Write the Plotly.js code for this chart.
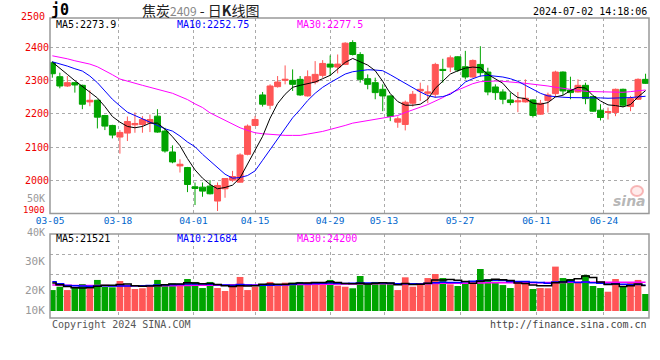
<!DOCTYPE html>
<html><head><meta charset="utf-8">
<script src="https://cdn.plot.ly/plotly-3.0.1.min.js"></script>
<style>html,body{margin:0;padding:0;background:#fff}#chart{width:660px;height:360px}</style>
</head><body><div id="chart"></div>
<script>
// ---- data ----
const tickLabels = ['03-05','03-18','04-01','04-15','04-29','05-13','05-27','06-11','06-24'];
const opens = [2354,2312,2284,2294,2286,2236,2241,2195,2165,2130,
2142,2167,2168,2173,2193,2148,2085,2043,2038,1980,
1979,1982,1937,1974,2000,1994,2078,2165,2257,2226,
2282,2301,2301,2304,2254,2296,2316,2350,2341,2349,
2415,2379,2306,2294,2274,2254,2175,2168,2232,2269,
2262,2259,2334,2341,2372,2342,2311,2349,2326,2281,
2266,2242,2236,2236,2242,2199,2240,2261,2326,2272,
2266,2286,2252,2211,2204,2204,2274,2222,2244,2304];
const highs = [2358,2324,2314,2296,2288,2271,2243,2197,2167,2151,
2192,2204,2193,2198,2214,2158,2105,2063,2040,1993,
1993,2000,1993,2005,2028,2081,2168,2193,2266,2289,
2314,2346,2334,2314,2331,2359,2362,2376,2379,2416,
2422,2386,2319,2309,2289,2256,2192,2240,2269,2294,
2286,2354,2366,2376,2374,2390,2364,2404,2339,2289,
2274,2264,2266,2304,2244,2242,2264,2330,2328,2312,
2304,2294,2254,2229,2219,2276,2276,2254,2307,2321];
const lows = [2309,2277,2281,2264,2214,2223,2156,2151,2126,2080,
2118,2143,2143,2145,2143,2083,2051,2023,1964,1925,
1950,1957,1907,1947,1995,1993,2075,2163,2222,2214,
2279,2289,2269,2254,2252,2289,2309,2314,2322,2347,
2376,2294,2274,2244,2208,2178,2158,2150,2222,2239,
2232,2249,2294,2326,2326,2304,2309,2312,2256,2242,
2229,2226,2205,2234,2189,2197,2204,2254,2257,2244,
2264,2229,2206,2180,2183,2193,2220,2208,2242,2290];
const closes = [2321,2284,2294,2287,2229,2241,2190,2163,2136,2144,
2177,2171,2183,2183,2145,2088,2055,2048,1987,1975,
1967,1959,1984,2005,2011,2076,2163,2183,2229,2284,
2296,2304,2289,2257,2312,2319,2352,2341,2350,2413,
2379,2304,2289,2264,2254,2192,2185,2235,2259,2274,
2266,2349,2331,2369,2332,2311,2361,2324,2266,2264,
2244,2234,2239,2247,2195,2232,2257,2326,2269,2264,
2286,2246,2208,2189,2207,2274,2226,2246,2304,2292];
const ma5 = [2356,2336,2319,2300,2283,2267,2248,2222,2192,2175,
2162,2158,2162,2172,2172,2154,2131,2104,2065,2031,
2006,1987,1974,1978,1985,2007,2048,2088,2132,2187,
2231,2259,2280,2286,2292,2296,2306,2316,2335,2355,
2367,2357,2347,2330,2298,2261,2237,2226,2226,2229,
2244,2277,2297,2320,2330,2338,2341,2339,2319,2305,
2292,2266,2249,2246,2232,2229,2234,2251,2256,2270,
2280,2278,2255,2239,2227,2225,2221,2228,2251,2270];
const ma10 = [2357,2351,2344,2336,2329,2314,2294,2269,2244,2224,
2205,2195,2185,2176,2165,2155,2148,2133,2115,2101,
2078,2058,2038,2018,2006,2008,2014,2028,2060,2093,
2125,2155,2188,2213,2240,2262,2280,2294,2308,2320,
2327,2330,2333,2332,2330,2318,2305,2290,2277,2266,
2255,2250,2252,2259,2275,2296,2306,2314,2316,2314,
2311,2306,2298,2286,2274,2262,2254,2251,2250,2249,
2249,2250,2250,2248,2247,2247,2247,2249,2251,2253];
const ma30 = [2375,2371,2366,2360,2356,2350,2342,2331,2318,2305,
2298,2292,2286,2280,2273,2268,2262,2253,2243,2230,
2219,2203,2192,2180,2168,2158,2150,2143,2140,2138,
2136,2135,2135,2135,2139,2142,2147,2153,2158,2165,
2172,2176,2180,2183,2186,2190,2195,2204,2213,2220,
2228,2238,2249,2262,2272,2282,2291,2297,2299,2299,
2298,2297,2294,2292,2290,2288,2284,2280,2277,2274,
2270,2268,2267,2266,2265,2264,2265,2267,2269,2272];
const volumes = [17600,20400,17600,19600,22700,19100,26100,20400,19900,25200,
21800,18500,19100,20400,26100,22700,23200,21000,26900,24400,
19300,24400,19300,16800,22700,28600,17600,20400,22700,24400,
21000,23800,23800,24400,24400,24400,23800,26100,21300,20400,
19100,29400,23200,24400,22700,22700,17600,28300,20400,23200,
27700,31100,27700,22400,21000,23200,23200,35300,26900,24600,
21800,19300,25200,24400,18500,19300,19100,37300,27700,26900,
24600,30300,21000,19300,16200,26900,20400,23800,26100,14300];
const volMa5 = [23500,22000,20500,19600,19300,19500,20900,21600,21600,22300,
22700,21200,20900,21000,21200,22000,22600,22700,23800,23600,
23000,23100,22200,21200,20500,21200,21000,21200,22400,22700,
22400,22500,23100,23500,23500,23900,24000,24600,24000,23200,
22900,23300,22700,23300,23800,23600,22100,23100,22300,22400,
23400,26100,26100,26400,25900,24700,23400,25000,25900,26600,
26300,25600,23500,23100,21800,21300,21300,23700,24400,26100,
27100,29400,28100,24400,22300,22700,20600,21300,22700,21500];
const volMa10 = [24600,22800,21500,21200,21000,20800,21000,21200,21100,21000,
21000,21200,21300,21400,21800,21900,22100,22300,22700,22700,
22600,22400,22100,21800,21700,22200,21800,21700,21600,21700,
21800,22000,22400,23100,23000,23200,23300,23500,23200,23100,
23400,23600,23600,23600,23500,23300,22800,23000,22900,22700,
23200,23700,24100,24000,24000,24600,24900,25400,25700,25800,
25600,24800,24700,24700,24100,24000,23400,24300,24500,24700,
24000,24300,23800,23300,22600,22900,22400,22200,22300,21700];
const volMa30 = [21800,21700,21600,21500,21500,21400,21400,21400,21300,21300,
21300,21300,21200,21200,21200,21300,21300,21400,21500,21600,
21600,21700,21700,21700,21700,21800,21800,21800,21900,22000,
22000,22100,22200,22300,22300,22400,22500,22500,22600,22600,
22700,22800,22800,22800,22900,22900,22900,23000,23000,23000,
23100,23200,23300,23300,23400,23400,23500,23600,23700,23700,
23700,23700,23800,23800,23800,23800,23900,24000,24000,24100,
24100,24100,24100,24100,24100,24100,24200,24200,24200,24200];

// ---- layout helpers (pixel -> paper) ----
const L = 50, R = 649, T = 18, B = 318;
const px = v => (v - L) / (R - L);
const py = v => (B - v) / (B - T);
const gridPos = [-0.3, 8.75, 18.8, 27.0, 37.0, 44.17, 54.29, 64.47, 73.46];

const RED = '#ff5656', GREEN = '#00a400';
const idx = closes.map((_, i) => i);
const volColors = closes.map((c, i) => c >= opens[i] ? RED : GREEN);
const MONO = 'DejaVu Sans Mono, monospace';

const traces = [
  {type:'candlestick', x:idx, open:opens, high:highs, low:lows, close:closes,
   xaxis:'x', yaxis:'y', whiskerwidth:0,
   increasing:{line:{color:RED,width:1}, fillcolor:RED},
   decreasing:{line:{color:GREEN,width:1}, fillcolor:GREEN}, hoverinfo:'skip'},
  {type:'scatter', mode:'lines', x:idx, y:ma30, line:{color:'#ff00ff',width:1}, xaxis:'x', yaxis:'y'},
  {type:'scatter', mode:'lines', x:idx, y:ma10, line:{color:'#0000ff',width:1}, xaxis:'x', yaxis:'y'},
  {type:'scatter', mode:'lines', x:idx, y:ma5, line:{color:'#000000',width:1}, xaxis:'x', yaxis:'y'},
  {type:'bar', x:idx, y:volumes, marker:{color:volColors, line:{width:0}}, xaxis:'x2', yaxis:'y2'},
  {type:'scatter', mode:'lines', x:idx, y:volMa30, line:{color:'#ff00ff',width:1.5,shape:'hvh'}, xaxis:'x2', yaxis:'y2'},
  {type:'scatter', mode:'lines', x:idx, y:volMa10, line:{color:'#0000ff',width:1.5,shape:'hvh'}, xaxis:'x2', yaxis:'y2'},
  {type:'scatter', mode:'lines', x:idx, y:volMa5, line:{color:'#000000',width:1.5,shape:'hvh'}, xaxis:'x2', yaxis:'y2'}
];

const ann = (x, y, text, opt) => Object.assign({xref:'paper', yref:'paper', x:px(x), y:py(y),
  text:text, showarrow:false, xanchor:'left', yanchor:'middle',
  font:{family:MONO, size:10, color:'#000'}}, opt || {});
const RED_TXT = '#ee0000';

const annotations = [
  ann(49, 10, '<b>j0</b>', {font:{family:MONO, size:15, color:'#000'}}),
  ann(140, 10, '焦炭<span style="color:#888;font-size:12px">2409</span> - 日<b>K</b>线图',
      {font:{family:'Noto Sans CJK SC', size:14, color:'#222'}}),
  ann(649, 12, '2024-07-02 14:18:06', {xanchor:'right'}),
  ann(47, 16, '2500', {xanchor:'right', font:{family:MONO, size:10, color:RED_TXT}}),
  ann(47, 210, '1900', {xanchor:'right', font:{family:MONO, size:9, color:RED_TXT}}),
  ann(54, 24, 'MA5:2273.9'),
  ann(175, 24, 'MA10:2252.75', {font:{family:MONO, size:10, color:'#0000ff'}}),
  ann(295, 24, 'MA30:2277.5', {font:{family:MONO, size:10, color:'#ff00ff'}}),
  ann(47, 199, '50K', {xanchor:'right', font:{family:MONO, size:10, color:'#999'}}),
  ann(47, 232, '40K', {xanchor:'right', font:{family:MONO, size:10, color:'#999'}}),
  ann(47, 261, '30K', {xanchor:'right', font:{family:MONO, size:11, color:'#999'}}),
  ann(47, 290, '20K', {xanchor:'right', font:{family:MONO, size:11, color:'#999'}}),
  ann(47, 310.5, '10K', {xanchor:'right', font:{family:MONO, size:11, color:'#999'}}),
  ann(54, 238, 'MA5:21521'),
  ann(175, 238, 'MA10:21684', {font:{family:MONO, size:10, color:'#0000ff'}}),
  ann(295, 238, 'MA30:24200', {font:{family:MONO, size:10, color:'#ff00ff'}}),
  ann(50, 324, 'Copyright 2024 SINA.COM', {font:{family:MONO, size:10, color:'#555'}}),
  ann(649, 324, 'http://finance.sina.com.cn', {xanchor:'right', font:{family:MONO, size:10, color:'#444'}}),
  ann(648, 201, '<i><b>sina</b></i>', {xanchor:'right', font:{family:'DejaVu Sans', size:14, color:'rgba(160,160,160,0.75)'}})
];

const shapes = [
  {type:'rect', xref:'paper', yref:'paper', x0:0, x1:1, y0:py(213.5), y1:1, line:{color:'#999',width:1.5}},
  {type:'rect', xref:'paper', yref:'paper', x0:0, x1:1, y0:0, y1:py(234), line:{color:'#999',width:1.5}},
  {type:'circle', xref:'paper', yref:'paper', x0:px(631), x1:px(643), y0:py(196), y1:py(186),
   line:{color:'rgba(240,120,120,0.5)',width:2}, fillcolor:'rgba(255,190,190,0.3)'}
];

const grid = {showgrid:true, gridcolor:'#aaa', griddash:'dot', gridwidth:1, zeroline:false, showline:false, ticks:''};

const layout = {
  width:660, height:360, margin:{l:L, r:660-R, t:T, b:360-B},
  paper_bgcolor:'#fff', plot_bgcolor:'#fff', showlegend:false,
  boxgap:0.2, boxgroupgap:0, bargap:0.11,
  xaxis: Object.assign({}, grid, {domain:[0,1], range:[-0.31,79.46], anchor:'y',
    tickmode:'array', tickvals:gridPos, ticktext:tickLabels,
    tickfont:{family:MONO, size:9.5, color:'#0066cc'}, rangeslider:{visible:false}, fixedrange:true}),
  xaxis2: Object.assign({}, grid, {domain:[0,1], range:[-0.31,79.46], anchor:'y2', matches:'x',
    tickmode:'array', tickvals:gridPos, showticklabels:false, rangeslider:{visible:false}}),
  yaxis: Object.assign({}, grid, {domain:[py(213.5),1], range:[1899.5,2489], anchor:'x',
    tickmode:'array', tickvals:[2000,2100,2200,2300,2400],
    tickfont:{family:MONO, size:10, color:RED_TXT}}),
  yaxis2: Object.assign({}, grid, {domain:[0,py(234)], range:[-5880,64700], anchor:'x2',
    tickmode:'array', tickvals:[12600,30300,47100], showticklabels:false}),
  annotations: annotations, shapes: shapes
};

Plotly.newPlot('chart', traces, layout, {staticPlot:true, displayModeBar:false});
</script></body></html>
